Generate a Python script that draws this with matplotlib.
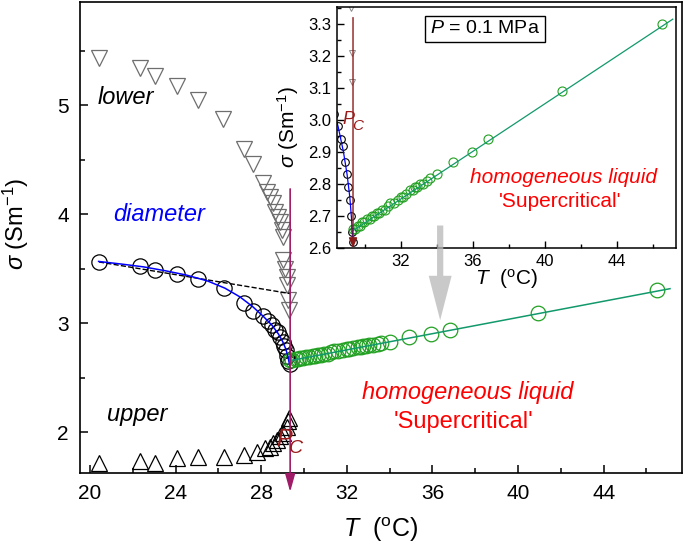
import numpy as np
import matplotlib
matplotlib.use('Agg')
import matplotlib.pyplot as plt
from matplotlib.patches import FancyArrowPatch
from matplotlib.ticker import MultipleLocator

plt.rcParams['font.family'] = ['Liberation Sans', 'DejaVu Sans']
plt.rcParams['mathtext.fontset'] = 'custom'
plt.rcParams['mathtext.rm'] = 'Liberation Sans'
plt.rcParams['mathtext.it'] = 'Liberation Sans:italic'

# critical temperature
Tc = 29.35

# diameter (black open circles)
T_diam = [20.42, 22.34, 23.04, 24.07, 25.05, 26.26, 27.2, 27.62, 28.1, 28.3,
          28.5, 28.66, 28.77, 28.88, 29.0, 29.05, 29.16, 29.2, 29.27, 29.33]
s_diam = [3.56, 3.52, 3.49, 3.45, 3.40, 3.32, 3.18, 3.11, 3.06, 3.02,
          2.98, 2.94, 2.92, 2.87, 2.83, 2.79, 2.75, 2.70, 2.65, 2.62]

# lower phase (inverted triangles)
T_lower = [20.42, 22.34, 23.04, 24.07, 25.05, 26.2, 27.17, 27.6, 28.08, 28.27,
           28.41, 28.55, 28.64, 28.79, 28.88, 28.97, 29.02, 29.02, 29.11, 29.2,
           29.2, 29.25, 29.3]
s_lower = [5.43, 5.34, 5.27, 5.17, 5.05, 4.87, 4.60, 4.46, 4.28, 4.20,
           4.16, 4.10, 4.02, 3.97, 3.93, 3.85, 3.79, 3.58, 3.50, 3.42,
           3.35, 3.21, 3.12]

# upper phase (triangles)
T_upper = [20.42, 22.34, 23.04, 24.07, 25.05, 26.26, 27.2, 27.8, 28.18, 28.41,
           28.55, 28.74, 28.88, 29.02, 29.2, 29.25, 29.3]
s_upper = [1.72, 1.73, 1.72, 1.76, 1.77, 1.77, 1.79, 1.82, 1.85, 1.86,
           1.90, 1.93, 1.96, 1.99, 2.05, 2.10, 2.13]

# homogeneous liquid (green circles)
T_homo = [29.35, 29.45, 29.6, 29.72, 29.83, 29.95, 30.1, 30.25, 30.4, 30.52,
          30.66, 30.8, 30.94, 31.1, 31.25, 31.4, 31.6, 31.83, 32.0, 32.1,
          32.3, 32.5, 32.65, 32.77, 32.9, 33.05, 33.2, 33.44, 33.6, 34.0,
          34.9, 35.94, 36.83, 40.94, 46.5]
s_homo = [2.66, 2.66, 2.67, 2.67, 2.68, 2.68, 2.69, 2.69, 2.70, 2.70,
          2.71, 2.71, 2.72, 2.72, 2.73, 2.74, 2.74, 2.75, 2.76, 2.76,
          2.77, 2.78, 2.78, 2.79, 2.79, 2.80, 2.80, 2.81, 2.82, 2.83,
          2.87, 2.90, 2.94, 3.09, 3.30]

# fit curves
T_fit = [20.4, 21.5, 22.5, 23.5, 24.5, 25.5, 26.3, 27.0, 27.6, 28.1,
         28.5, 28.8, 29.0, 29.15, 29.25, 29.33]
s_fit = [3.565, 3.54, 3.515, 3.48, 3.44, 3.385, 3.32, 3.24, 3.15, 3.06,
         2.98, 2.90, 2.83, 2.76, 2.69, 2.61]
T_rect = [20.42, 29.35]
s_rect = [3.56, 3.27]
T_line = [29.35, 47.1]
s_line = [2.655, 3.315]

GREEN = '#22a022'
LINE_GREEN = '#12996b'
PC_MAIN = '#a01c68'
PC_TEXT = '#9b1b1b'

fig = plt.figure(figsize=(6.85, 5.49), dpi=100)
ax = fig.add_axes([80 / 685, 76 / 549, 602 / 685, 471 / 549])

ax.plot(T_lower, s_lower, 'v', ms=11, mfc='none', mec='#6e6e6e', mew=0.9)
ax.plot(T_upper, s_upper, '^', ms=11, mfc='none', mec='black', mew=0.9)
ax.plot(T_diam, s_diam, 'o', ms=11, mfc='none', mec='black', mew=0.9)
ax.plot(T_homo, s_homo, 'o', ms=10.5, mfc='none', mec=GREEN, mew=0.9)
ax.plot(T_rect, s_rect, '--', color='black', lw=1)
ax.plot(T_fit, s_fit, '-', color='blue', lw=1.1)
ax.plot(T_line, s_line, '-', color=LINE_GREEN, lw=1.1)

ax.annotate('', xy=(Tc, 1.45), xytext=(Tc, 4.23), annotation_clip=False,
            arrowprops=dict(arrowstyle='-|>,head_length=0.9,head_width=0.25',
                            color=PC_MAIN, lw=1.2, mutation_scale=12,
                            shrinkA=0, shrinkB=0))

ax.text(21.68, 5.07, 'lower', fontsize=17, style='italic', ha='center', va='center')
ax.text(23.22, 4.0, 'diameter', fontsize=17, style='italic', color='blue',
        ha='center', va='center')
ax.text(22.2, 2.16, 'upper', fontsize=17, style='italic', ha='center', va='center')
ax.text(29.07, 1.93, 'P', fontsize=17, style='italic', color=PC_TEXT,
        ha='center', va='center')
ax.text(29.63, 1.85, 'C', fontsize=14, style='italic', color=PC_TEXT,
        ha='center', va='center')
ax.text(37.66, 2.36, 'homogeneous liquid', fontsize=17, style='italic',
        color='red', ha='center', va='center')
ax.text(37.43, 2.09, "'Supercritical'", fontsize=17, color='red',
        ha='center', va='center')

ax.set_xlim(19.53, 47.66)
ax.set_ylim(1.624, 5.945)
ax.xaxis.set_major_locator(MultipleLocator(4))
ax.xaxis.set_minor_locator(MultipleLocator(2))
ax.yaxis.set_major_locator(MultipleLocator(1))
ax.yaxis.set_minor_locator(MultipleLocator(0.5))
ax.tick_params(which='both', direction='in', labelsize=15, width=1.1)
ax.tick_params(which='major', length=6)
ax.tick_params(which='minor', length=3.5)
ax.tick_params(axis='x', pad=8)
ax.tick_params(axis='y', pad=8)
for sp in ax.spines.values():
    sp.set_linewidth(1.2)
ax.set_xlabel(r'$T$  ($^{\mathrm{o}}$C)', fontsize=18)
ax.set_ylabel(r'$\sigma$ (Sm$^{-1}$)', fontsize=17)
ax.xaxis.set_label_coords(0.5, -0.09)
ax.yaxis.set_label_coords(-0.082, 0.53)

# inset
axi = fig.add_axes([337 / 685, 301 / 549, 339 / 685, 241 / 549])
axi.plot(T_lower, s_lower, 'v', ms=4.5, mfc='none', mec='#8a8a8a', mew=0.7)
axi.plot(T_diam, s_diam, 'o', ms=5.5, mfc='none', mec='black', mew=0.8)
axi.plot(T_homo, s_homo, 'o', ms=6.5, mfc='none', mec=GREEN, mew=0.8)
axi.plot(T_fit, s_fit, '-', color='blue', lw=0.9)
axi.plot(T_line, s_line, '-', color=LINE_GREEN, lw=0.9)
axi.annotate('', xy=(29.33, 2.6), xytext=(29.33, 3.32),
             arrowprops=dict(arrowstyle='-|>,head_length=0.6,head_width=0.25',
                             color='#8b1a1a', lw=1, mutation_scale=10,
                             shrinkA=0, shrinkB=0))
axi.text(29.1, 3.0, 'P', fontsize=13, style='italic', color=PC_TEXT,
         ha='center', va='center')
axi.text(29.6, 2.98, 'C', fontsize=11, style='italic', color=PC_TEXT,
         ha='center', va='center')
axi.text(0.437, 0.909, r'$P$ = 0.1 MPa', fontsize=14, transform=axi.transAxes,
         ha='center', va='center',
         bbox=dict(boxstyle='square,pad=0.25', fc='white', ec='black', lw=1))
axi.text(41.05, 2.82, 'homogeneous liquid', fontsize=15, style='italic',
         color='red', ha='center', va='center')
axi.text(40.83, 2.744, "'Supercritical'", fontsize=15, color='red',
         ha='center', va='center')

axi.set_xlim(28.44, 47.28)
axi.set_ylim(2.6, 3.353)
axi.xaxis.set_major_locator(MultipleLocator(4))
axi.xaxis.set_minor_locator(MultipleLocator(2))
axi.yaxis.set_major_locator(MultipleLocator(0.1))
axi.yaxis.set_minor_locator(MultipleLocator(0.05))
axi.tick_params(which='both', direction='in', labelsize=12, width=1)
axi.tick_params(which='major', length=5, pad=4)
axi.tick_params(which='minor', length=3)
for sp in axi.spines.values():
    sp.set_linewidth(1.1)
axi.set_xlabel(r'$T$  ($^{\mathrm{o}}$C)', fontsize=15)
axi.set_ylabel(r'$\sigma$ (Sm$^{-1}$)', fontsize=15)
axi.xaxis.set_label_coords(0.5, -0.08)
axi.yaxis.set_label_coords(-0.105, 0.5)

# gray arrow from inset to main plot
gray = FancyArrowPatch((36.36, 3.92), (36.36, 3.0), transform=ax.transData,
                       arrowstyle='simple,head_length=3.2,head_width=1.65,tail_width=0.45',
                       mutation_scale=10, color='#b8b8b8', alpha=0.75, lw=0,
                       clip_on=False, zorder=5)
fig.add_artist(gray)

fig.savefig('out.png', dpi=100)
